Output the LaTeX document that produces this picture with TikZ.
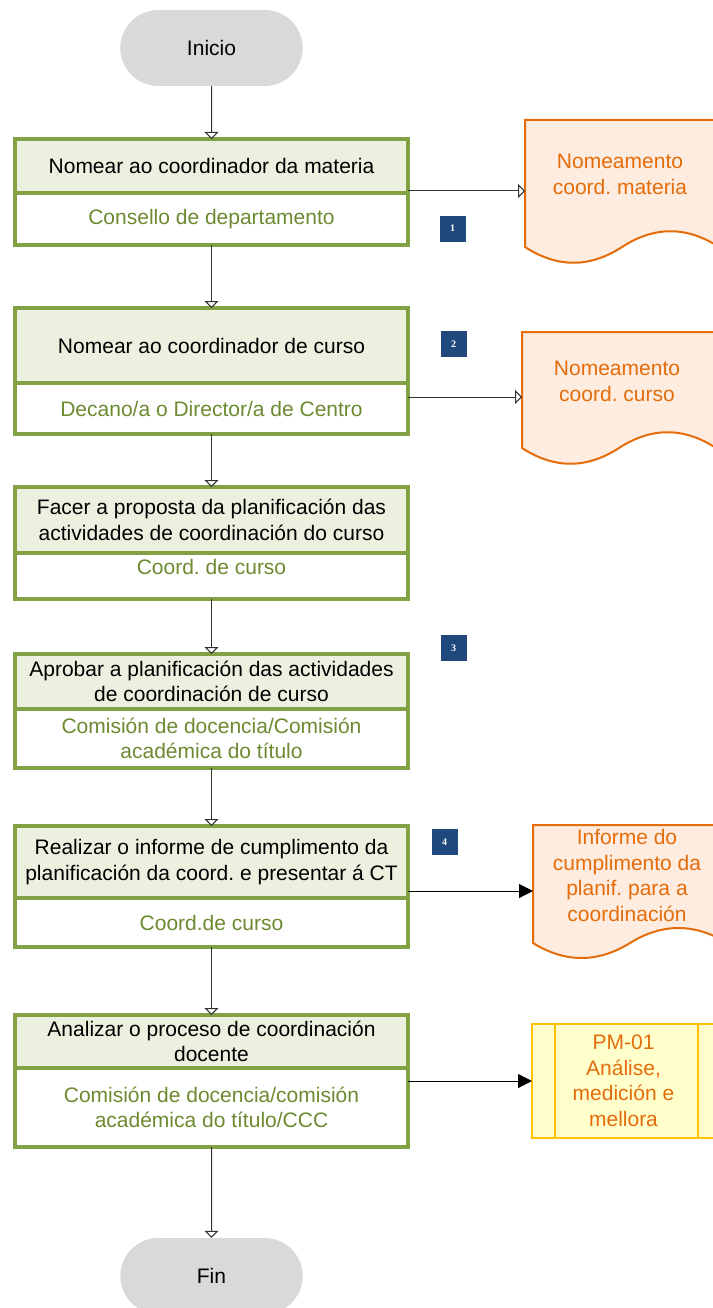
\documentclass[tikz,border=0pt]{standalone}
\usepackage{fontspec}
\setmainfont{Liberation Sans}
\newfontfamily\numfont{Liberation Serif}
\usetikzlibrary{arrows.meta,positioning,shapes.misc}

\definecolor{boxgreen}{RGB}{130,160,68}
\definecolor{rolegreen}{RGB}{108,138,48}
\definecolor{headfill}{RGB}{235,241,222}
\definecolor{docorange}{RGB}{228,108,10}
\definecolor{docfill}{RGB}{253,236,223}
\definecolor{pmfill}{RGB}{255,255,204}
\definecolor{pmgold}{RGB}{255,192,0}
\definecolor{stepblue}{RGB}{31,73,125}
\definecolor{pillgray}{RGB}{217,217,217}

\begin{document}
\frenchspacing
\begin{tikzpicture}[x=1pt,y=-1pt,
every node/.style={font=\fontsize{21}{25.5}\selectfont},
pill/.style={rounded rectangle,fill=pillgray,minimum width=189pt,minimum height=76pt},
head/.style={draw=boxgreen,line width=3.4pt,fill=headfill,minimum width=393pt,align=center,inner sep=1pt,outer sep=0pt},
role/.style={head,fill=white,text=rolegreen},
docarea/.style={minimum width=194pt,inner sep=0pt,outer sep=0pt},
doctext/.style={text=docorange,align=center},
docline/.style={draw=docorange,line width=2pt,fill=docfill},
pmbox/.style={draw=pmgold,line width=2pt,fill=pmfill,text=docorange,align=center,minimum width=183pt,minimum height=114pt,outer sep=0pt},
stepnum/.style={fill=stepblue,text=white,font=\numfont\bfseries\fontsize{10}{10}\selectfont,minimum size=26pt,inner sep=0pt},
flow/.style={draw=black!80,line width=1pt,-{Triangle[open,length=7pt,width=14pt,fill=white]}},
fillflow/.style={draw=black,line width=1pt,-{Triangle[length=14pt,width=14pt]}}]

\useasboundingbox (0,0) rectangle (712,1308);

\node[pill] (start) at (211.5,48) {Inicio};
\node[pill] (fin) at (211.5,1276) {Fin};

\node[head,minimum height=54pt] (h1) at (211.5,166) {Nomear ao coordinador da materia};
\node[role,minimum height=52pt,below=0pt of h1] (r1) {Consello de departamento};

\node[head,minimum height=75pt] (h2) at (211.5,345.5) {Nomear ao coordinador de curso};
\node[role,minimum height=51pt,below=0pt of h2] (r2) {Decano/a o Director/a de Centro};

\node[head,minimum height=66pt] (h3) at (211.5,520) {Facer a proposta da planificación das\\actividades de coordinación do curso};
\node[role,minimum height=46pt,text depth=18pt,below=0pt of h3] (r3) {Coord. de curso};

\node[head,minimum height=55pt] (h4) at (211.5,681.5) {Aprobar a planificación das actividades\\de coordinación de curso};
\node[role,minimum height=59pt,below=0pt of h4] (r4) {Comisión de docencia/Comisión\\académica do título};

\node[head,minimum height=72pt] (h5) at (211.5,862) {Realizar o informe de cumplimento da\\planificación da coord. e presentar á CT};
\node[role,minimum height=49pt,below=0pt of h5] (r5) {Coord.de curso};

\node[head,minimum height=53pt] (h6) at (211.5,1041.5) {Analizar o proceso de coordinación\\docente};
\node[role,minimum height=79pt,below=0pt of h6] (r6) {Comisión de docencia/comisión\\académica do título/CCC};

\draw[docline] (525,247) .. controls (557.3,268) and (589.7,268) .. (622,247) .. controls (654.3,226) and (686.7,226) .. (719,247) -- (719,120) -- (525,120) -- cycle;
\draw[docline] (522,448) .. controls (554.3,469) and (586.7,469) .. (619,448) .. controls (651.3,427) and (683.7,427) .. (716,448) -- (716,332) -- (522,332) -- cycle;
\draw[docline] (533,943) .. controls (565.3,963) and (597.7,963) .. (630,943) .. controls (662.3,923) and (694.7,923) .. (727,943) -- (727,825) -- (533,825) -- cycle;

\node[docarea,minimum height=142pt] (d1) at (622,191) {};
\node[docarea,minimum height=130pt] (d2) at (619,397) {};
\node[docarea,minimum height=132pt] (d3) at (630,891) {};
\node[doctext] (d1t) at (620,174.5) {Nomeamento\\coord. materia};
\node[doctext] (d2t) at (617,381.5) {Nomeamento\\coord. curso};
\node[doctext] (d3t) at (627,875.5) {Informe do\\cumplimento da\\planif. para a\\coordinación};

\node[pmbox] (pm) at (623.5,1081) {PM-01\\Análise,\\medición e\\mellora};
\draw[pmgold,line width=2pt] ([xshift=23pt]pm.north west) -- ([xshift=23pt]pm.south west);
\draw[pmgold,line width=2pt] ([xshift=-17pt]pm.north east) -- ([xshift=-17pt]pm.south east);

\foreach \n/\x/\y in {1/452.5/228.5,2/453.5/344,3/453.5/648,4/444.5/842}
{
\node[stepnum] (s\n) at (\x,\y) {\n};
}

\draw[flow] (start) -- (h1);
\draw[flow] (r1) -- (h2);
\draw[flow] (r2) -- (h3);
\draw[flow] (r3) -- (h4);
\draw[flow] (r4) -- (h5);
\draw[flow] (r5) -- (h6);
\draw[flow] (r6) -- (fin);

\draw[flow] (d1.west -| r1.east) -- (d1.west);
\draw[flow] (d2.west -| r2.east) -- (d2.west);
\draw[fillflow] (d3.west -| r5.east) -- (d3.west);
\draw[fillflow] (pm.west -| r6.east) -- (pm.west);
\end{tikzpicture}
\end{document}
